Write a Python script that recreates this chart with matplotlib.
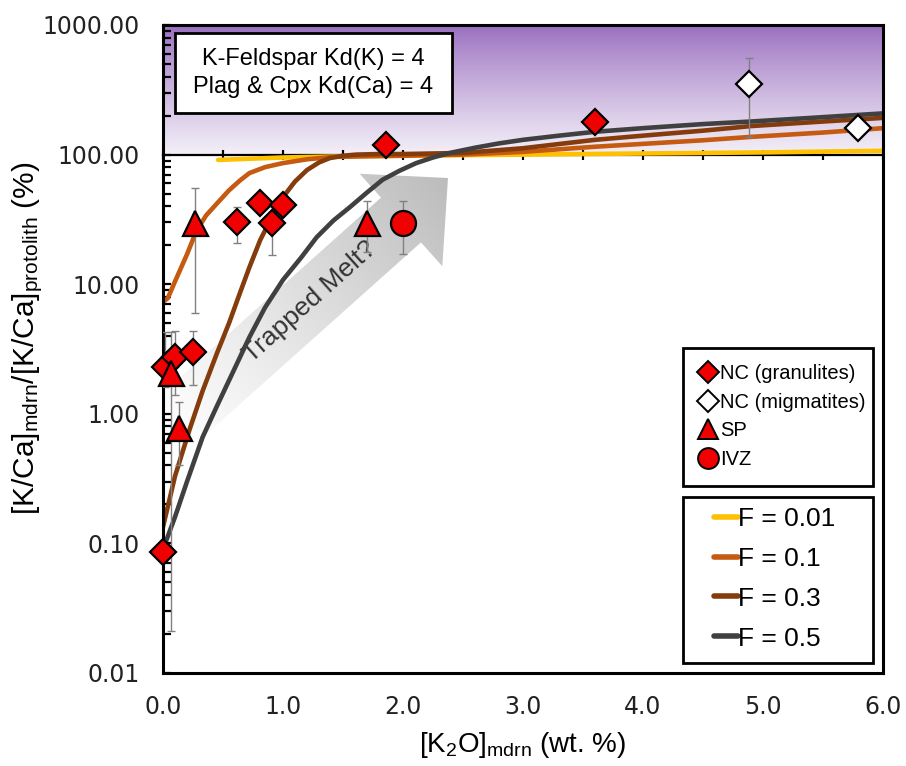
import numpy as np
import matplotlib
matplotlib.use('Agg')
import matplotlib.pyplot as plt
from matplotlib.patches import Polygon, Rectangle
from matplotlib.lines import Line2D
from matplotlib.ticker import FixedLocator, LogLocator, NullFormatter, FuncFormatter

plt.rcParams['font.family'] = ['Liberation Sans', 'DejaVu Sans']
plt.rcParams['mathtext.fontset'] = 'custom'
plt.rcParams['mathtext.rm'] = 'Liberation Sans'
plt.rcParams['mathtext.it'] = 'Liberation Sans:italic'
plt.rcParams['mathtext.bf'] = 'Liberation Sans:bold'

# ---------------- data ----------------
# NC (granulites)
ncg_x = [0.00, 0.02, 0.10, 0.25, 0.62, 0.81, 0.91, 1.00, 1.86, 3.60]
ncg_y = [0.086, 2.3, 2.75, 3.0, 30.0, 42.0, 29.7, 40.8, 118.0, 179.0]
ncg_lo = [np.nan, 1.6, 1.4, 1.67, 20.8, np.nan, 16.8, np.nan, np.nan, np.nan]
ncg_hi = [np.nan, 4.3, 4.35, 4.35, 39.6, np.nan, 40.0, np.nan, np.nan, np.nan]
# NC (migmatites)
ncm_x = [4.88, 5.79]
ncm_y = [351.0, 160.0]
ncm_lo = [137.0, np.nan]
ncm_hi = [556.0, np.nan]
# SP
sp_x = [0.07, 0.135, 0.27, 1.70]
sp_y = [2.05, 0.78, 29.7, 29.7]
sp_lo = [0.021, 0.40, 6.0, 17.7]
sp_hi = [4.3, 1.23, 55.0, 43.9]
# IVZ
ivz_x = [2.00]
ivz_y = [29.7]
ivz_lo = [17.0]
ivz_hi = [43.9]

# model curves
f001_x = [0.46, 1.0, 1.5, 2.0, 3.0, 4.0, 5.0, 6.0]
f001_y = [91, 95, 97, 98, 100, 102, 104, 107]
f01_x = [0.0, 0.04, 0.1, 0.2, 0.28, 0.36, 0.45, 0.55, 0.64, 0.72, 0.85, 1.0, 1.2,
         1.42, 1.7, 2.0, 2.5, 3.0, 3.6, 4.0, 4.5, 4.9, 5.5, 6.0]
f01_y = [7.3, 7.8, 10.5, 17, 26, 34, 42, 53, 63, 72, 80, 86, 92,
         96, 97, 98, 100, 105, 115, 121, 129, 137, 148, 160]
f03_x = [0.0, 0.1, 0.22, 0.33, 0.45, 0.55, 0.64, 0.72, 0.81, 0.9, 1.0, 1.1, 1.2, 1.3,
         1.39, 1.5, 1.61, 1.8, 2.0, 2.5, 3.0, 3.6, 4.0, 4.5, 4.9, 5.5, 6.0]
f03_y = [0.134, 0.33, 0.75, 1.5, 2.94, 5.0, 8.5, 13.5, 21.9, 32, 47, 62, 76, 87,
         94, 98, 100, 101, 101, 103, 112, 130, 140, 153, 166, 180, 192]
f05_x = [0.0, 0.1, 0.2, 0.33, 0.45, 0.58, 0.72, 0.85, 1.0, 1.15, 1.28, 1.42, 1.56, 1.7,
         1.83, 1.97, 2.11, 2.25, 2.39, 2.6, 2.8, 3.0, 3.3, 3.6, 4.0, 4.5, 4.9, 5.4, 6.0]
f05_y = [0.09, 0.16, 0.30, 0.66, 1.15, 2.07, 3.9, 6.6, 10.8, 16, 23, 31, 39.5, 51,
         64, 75, 86, 95, 103, 113, 122, 130, 140, 150, 160, 172, 180, 192, 208]

curve_labels = ['F = 0.01', 'F = 0.1', 'F = 0.3', 'F = 0.5']
curve_colors = ['#ffc000', '#c55a11', '#843c0c', '#404040']

y_ticks = [0.01, 0.1, 1, 10, 100, 1000]
x_ticks = [0, 1, 2, 3, 4, 5, 6]

# ---------------- figure ----------------
W, H = 906, 766
AX_L, AX_R, AX_T, AX_B = 163, 883, 25, 673
fig = plt.figure(figsize=(W / 100, H / 100), dpi=100)
ax = fig.add_axes([AX_L / W, 1 - AX_B / H, (AX_R - AX_L) / W, (AX_B - AX_T) / H])
ax.set_yscale('log')
ax.set_xlim(0, 6)
ax.set_ylim(0.01, 1000)
ax.set_autoscale_on(False)

aw, ah = AX_R - AX_L, AX_B - AX_T


def fx(px):
    return (px - AX_L) / aw


def fy(py):
    return (AX_B - py) / ah


# purple gradient region (100 -> 1000)
n = 256
t = np.linspace(0, 1, n)[:, None]  # 0 top -> 1 bottom
top_c = np.array([152, 108, 190]) / 255
bot_c = np.array([244, 240, 248]) / 255
tg = t ** 0.85
grad = (top_c * (1 - tg) + bot_c * tg)[:, None, :]
ax.imshow(grad, extent=(0, 1, 0.8, 1), transform=ax.transAxes, aspect='auto',
          interpolation='bilinear', zorder=0)

# gradient arrow ("Trapped Melt?")
d = np.array([47.0, -42.0]); d /= np.linalg.norm(d)
nrm = np.array([-d[1], d[0]])  # perpendicular (screen px, y down)
if nrm[1] < 0:
    nrm = -nrm
B = np.array([401.0, 220.0])
T = B + 63 * d
C = B - 320 * d
hw_body, hw_head = 30.0, 62.0
verts_px = [C + hw_body * nrm, B + hw_body * nrm, B + hw_head * nrm, T,
            B - hw_head * nrm, B - hw_body * nrm, C - hw_body * nrm]
verts = [(fx(p[0]), fy(p[1])) for p in verts_px]
poly = Polygon(verts, closed=True, transform=ax.transAxes, facecolor='none',
               edgecolor='none')
ax.add_patch(poly)
yy, xx = np.mgrid[AX_T:AX_B, AX_L:AX_R] + 0.5
L = np.dot(T - C, d)
tt = np.clip(((xx - C[0]) * d[0] + (yy - C[1]) * d[1]) / L, 0, 1)
g = 1 - (1 - 188 / 255) * tt ** 1.1
img = np.dstack([g, g, g])
im = ax.imshow(img, extent=(0, 1, 0, 1), transform=ax.transAxes, aspect='auto',
               origin='upper', zorder=1)
im.set_clip_path(poly)
mid = B - 122 * d
ang = np.degrees(np.arctan2(-d[1], d[0]))
ax.text(fx(mid[0]), fy(mid[1]), 'Trapped Melt?', transform=ax.transAxes,
        rotation=ang, rotation_mode='anchor', ha='center', va='center',
        fontsize=19, color='#333333', zorder=1.5)

# secondary axis line at 100
sec = ax.secondary_xaxis(0.8)
sec.set_xticks(np.arange(0, 6.01, 0.5))
sec.tick_params(axis='x', which='both', direction='inout', length=7, width=1.5,
                labelbottom=False, labeltop=False, bottom=True, top=True)
sec.spines['bottom'].set_linewidth(1.6)
sec.spines['top'].set_linewidth(1.6)

# curves
for xs, ys, c, lab in zip([f001_x, f01_x, f03_x, f05_x], [f001_y, f01_y, f03_y, f05_y],
                          curve_colors, curve_labels):
    ax.plot(xs, ys, color=c, lw=3.3, solid_capstyle='round', solid_joinstyle='round',
            zorder=2, label=lab)


def errs(xs, ys, lo, hi):
    xs, ys, lo, hi = map(np.asarray, (xs, ys, lo, hi))
    m = ~np.isnan(lo)
    ax.errorbar(xs[m], ys[m], yerr=[ys[m] - lo[m], hi[m] - ys[m]], fmt='none',
                ecolor='#808080', elinewidth=1.0, capsize=3, capthick=1.0, zorder=3)


RED = '#f00000'
errs(ncg_x, ncg_y, ncg_lo, ncg_hi)
errs(ncm_x, ncm_y, ncm_lo, ncm_hi)
errs(sp_x, sp_y, sp_lo, sp_hi)
errs(ivz_x, ivz_y, ivz_lo, ivz_hi)
ax.plot(ncg_x, ncg_y, ls='none', marker='D', ms=13, mfc=RED, mec='black', mew=1.6,
        zorder=4, clip_on=False)
ax.plot(ncm_x, ncm_y, ls='none', marker='D', ms=13, mfc='white', mec='black', mew=1.6,
        zorder=4, clip_on=False)
ax.plot(sp_x, sp_y, ls='none', marker='^', ms=18, mfc=RED, mec='black', mew=1.6,
        zorder=4, clip_on=False)
ax.plot(ivz_x, ivz_y, ls='none', marker='o', ms=18, mfc=RED, mec='black', mew=1.6,
        zorder=4, clip_on=False)

# axes styling
for sp in ax.spines.values():
    sp.set_linewidth(2.2)
ax.yaxis.set_major_locator(FixedLocator(y_ticks))
ax.yaxis.set_minor_locator(LogLocator(base=10, subs=np.arange(2, 10)))
ax.yaxis.set_minor_formatter(NullFormatter())
ax.yaxis.set_major_formatter(FuncFormatter(lambda v, p: f'{v:.2f}'))
ax.xaxis.set_major_locator(FixedLocator(x_ticks))
ax.xaxis.set_major_formatter(FuncFormatter(lambda v, p: f'{v:.1f}'))
ax.tick_params(axis='y', which='both', direction='in', left=True, right=False,
               width=1.6, length=6, pad=17)
ax.tick_params(axis='x', which='both', length=0, pad=15.5)
for lab in ax.get_xticklabels() + ax.get_yticklabels():
    lab.set_fontfamily('DejaVu Sans')
    lab.set_fontsize(17)
    lab.set_color('#222222')

ax.set_xlabel(r'[K$_{\mathrm{2}}$O]$_{\mathrm{mdrn}}$ (wt. %)', fontsize=20)
ax.xaxis.label.set_va('center')
ax.xaxis.set_label_coords(0.5, fy(745))
ax.set_ylabel(r'[K/Ca]$_{\mathrm{mdrn}}$/[K/Ca]$_{\mathrm{protolith}}$ (%)', fontsize=21.5)
ax.yaxis.label.set_va('center')
ax.yaxis.set_label_coords(fx(28), fy(338))

# annotation box
ax.add_patch(Rectangle((fx(175), fy(113)), fx(452) - fx(175), fy(33) - fy(113),
                       transform=ax.transAxes, facecolor='white', edgecolor='black',
                       lw=2, zorder=5))
ax.text((fx(175) + fx(452)) / 2, (fy(33) + fy(113)) / 2,
        'K-Feldspar Kd(K) = 4\nPlag & Cpx Kd(Ca) = 4', transform=ax.transAxes,
        ha='center', va='center', fontsize=17, linespacing=1.3, zorder=6)

# legend boxes
ax.add_patch(Rectangle((fx(683), fy(486)), fx(873) - fx(683), fy(348) - fy(486),
                       transform=ax.transAxes, facecolor='white', edgecolor='black',
                       lw=2, zorder=5))
ax.add_patch(Rectangle((fx(683), fy(663)), fx(873) - fx(683), fy(497) - fy(663),
                       transform=ax.transAxes, facecolor='white', edgecolor='black',
                       lw=2, zorder=5))

h1 = [Line2D([], [], ls='none', marker='D', ms=11, mfc=RED, mec='black', mew=1.4),
      Line2D([], [], ls='none', marker='D', ms=11, mfc='white', mec='black', mew=1.4),
      Line2D([], [], ls='none', marker='^', ms=15, mfc=RED, mec='black', mew=1.4),
      Line2D([], [], ls='none', marker='o', ms=15, mfc=RED, mec='black', mew=1.4)]
l1 = ax.legend(h1, ['NC (granulites)', 'NC (migmatites)', 'SP', 'IVZ'],
               loc='upper left', bbox_to_anchor=(fx(698), fy(364)),
               bbox_transform=ax.transAxes, frameon=False, fontsize=14.5,
               handlelength=0.95, handletextpad=0.15, labelspacing=0.48,
               borderpad=0, borderaxespad=0)
l1.set_zorder(7)
ax.add_artist(l1)

h2 = [Line2D([], [], color=c, lw=4, solid_capstyle='round') for c in curve_colors]
l2 = ax.legend(h2, curve_labels, loc='upper left', bbox_to_anchor=(fx(714), fy(507)),
               bbox_transform=ax.transAxes, frameon=False, fontsize=19,
               handlelength=0.9, handletextpad=0.0, labelspacing=0.6,
               borderpad=0, borderaxespad=0)
l2.set_zorder(7)

fig.savefig('out.png', dpi=100)
